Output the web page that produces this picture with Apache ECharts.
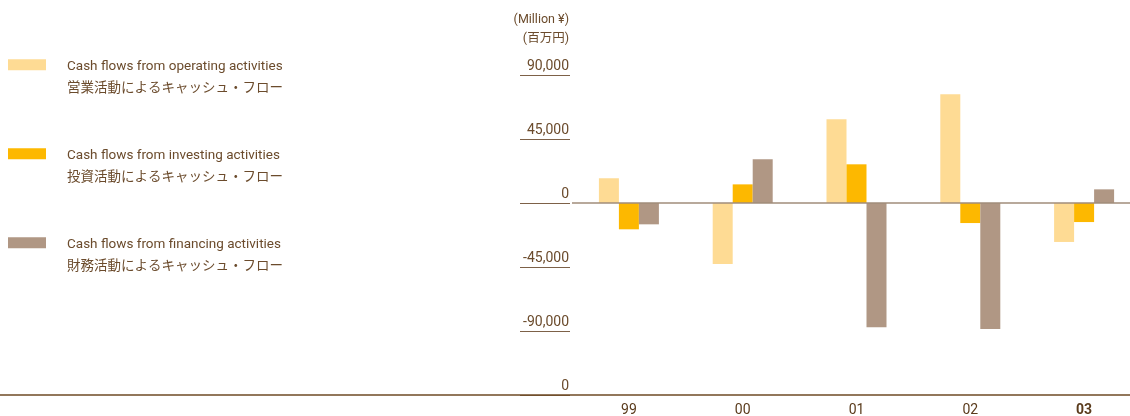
<!DOCTYPE html>
<html>
<head>
<meta charset="utf-8">
<script src="https://cdn.jsdelivr.net/npm/echarts@6/dist/echarts.min.js"></script>
<style>
  html, body { margin: 0; padding: 0; background: #fff; }
  #chart { width: 1130px; height: 416px; }
</style>
</head>
<body>
<div id="chart"></div>
<script>
// data (million yen)
const years = ['99', '00', '01', '02', '03'];
const operating = [17400, -42900, 58800, 76400, -27400];
const investing = [-18500, 13100, 27200, -14100, -13400];
const financing = [-15000, 30700, -87400, -88600, 9600];
const seriesNames = [
  'Cash flows from operating activities\n営業活動によるキャッシュ・フロー',
  'Cash flows from investing activities\n投資活動によるキャッシュ・フロー',
  'Cash flows from financing activities\n財務活動によるキャッシュ・フロー'
];
const yMin = -135000;
const yMax = 90000;
const yStep = 45000;

const textColor = '#6b4b2c';
const fontFamily = 'Roboto, "Noto Sans CJK JP", sans-serif';

const myChart = echarts.init(document.getElementById('chart'));

const barBase = {
  type: 'bar',
  xAxisIndex: 0,
  yAxisIndex: 0,
  barWidth: 20,
  barGap: '0%',
  silent: true
};

myChart.setOption({
  animation: false,
  textStyle: { fontFamily: fontFamily },
  legend: {
    orient: 'vertical',
    left: 8,
    top: 36,
    padding: 0,
    itemWidth: 38,
    itemHeight: 11,
    itemGap: 30,
    icon: 'rect',
    selectedMode: false,
    // blank first line so the English line sits level with the swatch
    formatter: function (name) {
      const lines = name.split('\n');
      return '{s| }\n{t|' + lines[0] + '}\n{t|' + lines[1] + '}';
    },
    textStyle: {
      color: textColor,
      fontSize: 13.5,
      padding: [0, 0, 0, 16],
      rich: {
        s: { lineHeight: 25, fontSize: 13.5 },
        t: { lineHeight: 22, fontSize: 13.5, color: textColor }
      }
    },
    data: seriesNames
  },
  grid: [
    // main plot (runs a little past the right edge)
    { left: 572, right: -11, top: 75, bottom: 21, outerBoundsMode: 'none' },
    // short underlines under the tick labels
    { left: 520, width: 50, top: 75, bottom: 21 },
    // full width base line
    { left: 0, right: 0, top: 75, bottom: 21 }
  ],
  xAxis: [
    {
      type: 'category',
      gridIndex: 0,
      data: years,
      axisLine: { show: false },
      axisTick: { show: false },
      axisLabel: {
        margin: 9,
        formatter: function (v) {
          return v === '03' ? '{b|' + v + '}' : '{a|' + v + '}';
        },
        rich: {
          a: { color: '#5a3b1c', fontSize: 14, fontFamily: fontFamily },
          b: { color: '#5a3b1c', fontSize: 14, fontWeight: 'bold', fontFamily: fontFamily }
        }
      }
    },
    {
      type: 'value', gridIndex: 1, min: 0, max: 1,
      axisLine: { show: false }, axisTick: { show: false },
      axisLabel: { show: false }, splitLine: { show: false }
    },
    {
      type: 'value', gridIndex: 2, min: 0, max: 1,
      axisLine: { show: true, onZero: false, lineStyle: { color: '#6e4a24', width: 1.5 } },
      axisTick: { show: false },
      axisLabel: { show: false }, splitLine: { show: false }
    }
  ],
  yAxis: [
    {
      type: 'value',
      gridIndex: 0,
      min: yMin,
      max: yMax,
      interval: yStep,
      name: '(Million ¥)\n(百万円)',
      nameLocation: 'end',
      nameGap: 27,
      nameTextStyle: {
        color: textColor,
        fontSize: 12.5,
        lineHeight: 19,
        align: 'right',
        verticalAlign: 'bottom',
        padding: [0, 3, 0, 0]
      },
      axisLine: { show: false },
      axisTick: { show: false },
      splitLine: { show: false },
      axisLabel: {
        margin: 3,
        color: textColor,
        fontSize: 14,
        lineHeight: 16,
        verticalAlign: 'bottom',
        padding: [0, 0, 1, 0],
        formatter: function (v) {
          return v === yMin ? '0' : v.toLocaleString('en-US');
        }
      }
    },
    {
      type: 'value',
      gridIndex: 1,
      min: yMin,
      max: yMax,
      interval: yStep,
      axisLine: { show: false },
      axisTick: { show: false },
      axisLabel: { show: false },
      splitLine: { show: true, lineStyle: { color: '#7d6148', width: 1 } }
    },
    {
      type: 'value', gridIndex: 2, min: 0, max: 1,
      axisLine: { show: false }, axisTick: { show: false },
      axisLabel: { show: false }, splitLine: { show: false }
    }
  ],
  series: [
    Object.assign({}, barBase, {
      name: seriesNames[0],
      itemStyle: { color: '#fedb94' },
      data: operating,
      markLine: {
        silent: true,
        symbol: 'none',
        label: { show: false },
        lineStyle: { color: '#a08c7a', width: 1.5, type: 'solid' },
        data: [{ yAxis: 0 }]
      }
    }),
    Object.assign({}, barBase, {
      name: seriesNames[1],
      itemStyle: { color: '#fdb800' },
      data: investing
    }),
    Object.assign({}, barBase, {
      name: seriesNames[2],
      itemStyle: { color: '#b09784' },
      data: financing
    })
  ]
});
</script>
</body>
</html>
